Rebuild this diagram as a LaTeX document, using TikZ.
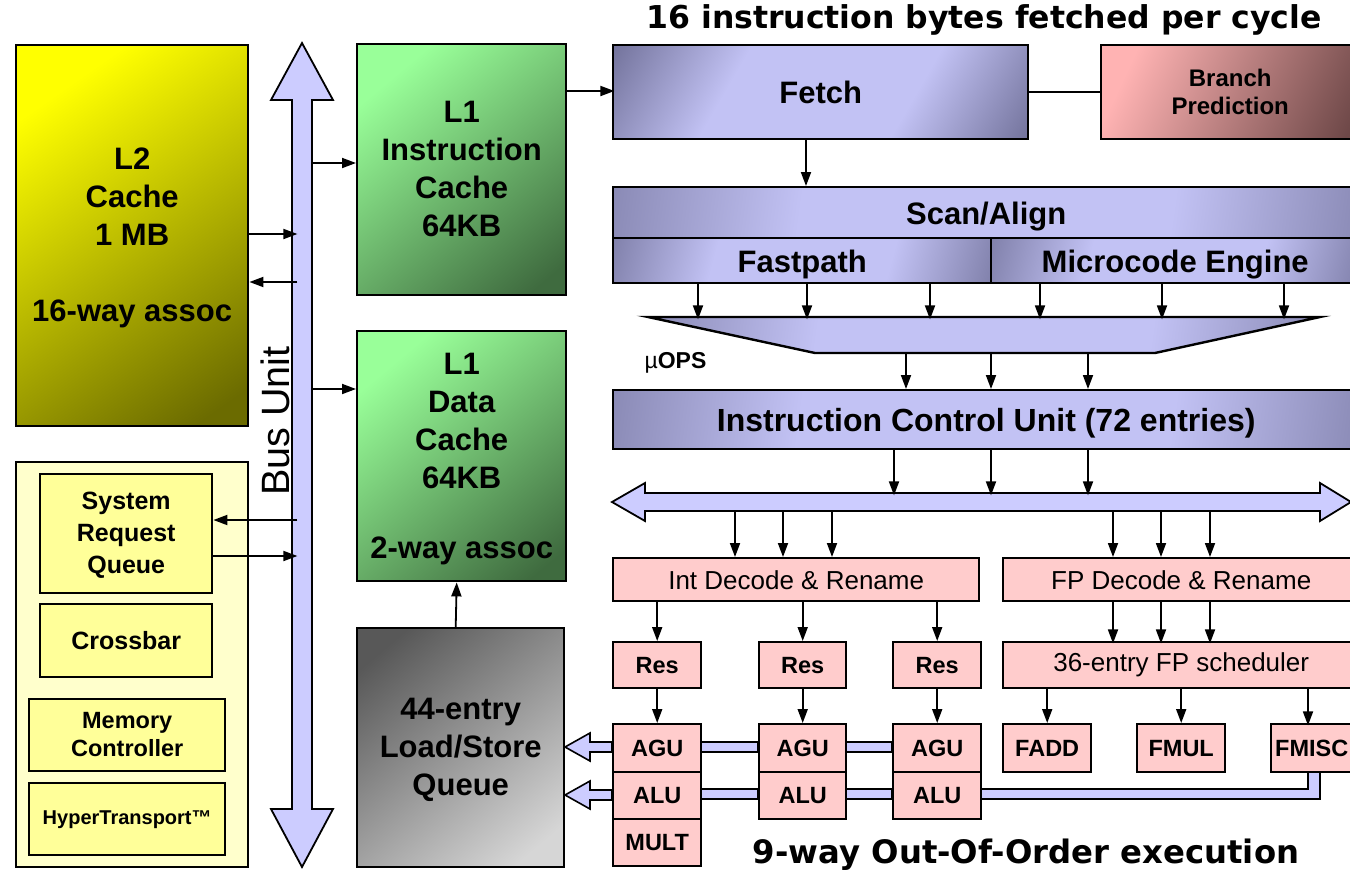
\documentclass[tikz,border=0pt]{standalone}
\usepackage{fontspec}
\setmainfont{Liberation Sans}
\newfontfamily\titlefont{DejaVu Sans}
\usetikzlibrary{arrows.meta}
\definecolor{lavL}{HTML}{C2C2F4}
\definecolor{lavD}{HTML}{55557A}
\definecolor{busC}{HTML}{CCCCFF}
\definecolor{pinkC}{HTML}{FFCCCC}
\definecolor{brL}{HTML}{FFB3B3}
\definecolor{brD}{HTML}{6E4848}
\definecolor{yelL}{HTML}{FFFF00}
\definecolor{yelD}{HTML}{6B6B00}
\definecolor{grnL}{HTML}{99FF99}
\definecolor{grnD}{HTML}{3F6B3F}
\definecolor{gryD}{HTML}{585858}
\definecolor{gryL}{HTML}{D6D6D6}
\definecolor{sysC}{HTML}{FFFFCC}
\definecolor{sysI}{HTML}{FFFF99}
\newcommand\tstrut{\rule[-0.22em]{0pt}{1.1em}}
\newcommand\sstrut{\rule[-0.22em]{0pt}{1.2em}}
\pgfdeclarehorizontalshading{lavsh}{100bp}{color(0bp)=(lavD); color(8bp)=(lavD); color(36bp)=(lavL); color(64bp)=(lavL); color(92bp)=(lavD); color(100bp)=(lavD)}
\pgfdeclarehorizontalshading{brsh}{100bp}{color(0bp)=(brL); color(25bp)=(brL); color(80bp)=(brD); color(100bp)=(brD)}
\pgfdeclarehorizontalshading{yelsh}{100bp}{color(0bp)=(yelL); color(25bp)=(yelL); color(80bp)=(yelD); color(100bp)=(yelD)}
\pgfdeclarehorizontalshading{grnsh}{100bp}{color(0bp)=(grnL); color(25bp)=(grnL); color(80bp)=(grnD); color(100bp)=(grnD)}
\pgfdeclarehorizontalshading{grysh}{100bp}{color(0bp)=(gryD); color(22bp)=(gryD); color(78bp)=(gryL); color(100bp)=(gryL)}
\tikzset{
  box/.style={draw=black, line width=2.4pt, inner sep=0pt, align=center, anchor=north west,
    font=\fontsize{31}{38}\selectfont\bfseries},
  pbox/.style={box, fill=pinkC, font=\fontsize{23.5}{28}\selectfont\bfseries},
  lbox/.style={box, fill=pinkC, font=\fontsize{26}{30}\selectfont},
  lav/.style={box, shading=lavsh, shading angle=-30},
  arr/.style={line width=1.8pt, -{Triangle[length=14pt,width=10pt]}},
  fat/.style={fill=busC, draw=black, line width=1.8pt, line join=miter},
}
\begin{document}
\begin{tikzpicture}[x=1pt,y=-1pt]
\useasboundingbox (0,0) rectangle (1350,873);
\clip (0,0) rectangle (1350,873);
\fill[white] (0,0) rectangle (1350,873);

% Bus unit arrow
\draw[fat] (302,43) -- (333,100) -- (312,100) -- (312,809) -- (333,809) -- (302,867)
  -- (271,809) -- (292,809) -- (292,100) -- (271,100) -- cycle;
\node[rotate=90, anchor=base, font=\fontsize{39.5}{40}\selectfont] (busunit) at (289,421) {Bus Unit};

% dispatch double arrow
\draw[fat] (612,502) -- (645,483) -- (645,493) -- (1320,493) -- (1320,483) -- (1351,502)
  -- (1320,521) -- (1320,511) -- (645,511) -- (645,521) -- cycle;

% hollow result buses
\draw[fat, line width=1.6pt] (565,747) -- (590,733) -- (590,742) -- (612,742) -- (612,752) -- (590,752) -- (590,761) -- cycle;
\draw[fat, line width=1.6pt] (565,795) -- (590,781) -- (590,790) -- (612,790) -- (612,800) -- (590,800) -- (590,809) -- cycle;
\draw[fat, line width=1.6pt] (700,742) rectangle (758,752);
\draw[fat, line width=1.6pt] (845,742) rectangle (892,752);
\draw[fat, line width=1.6pt] (700,789) rectangle (758,799);
\draw[fat, line width=1.6pt] (845,789) rectangle (892,799);
\draw[fat, line width=1.6pt] (980,789) -- (1308,789) -- (1308,771) -- (1320,771) -- (1320,799) -- (980,799) -- cycle;

% L2
\node[box, shading=yelsh, shading angle=-55, minimum width=232pt, minimum height=381pt] (l2) at (15,44)
  {\tstrut L2\\Cache\\1 MB\\[38pt]16-way assoc\tstrut};
% system block
\node[box, fill=sysC, minimum width=232pt, minimum height=405pt] (sys) at (15,461) {};
\node[box, fill=sysI, minimum width=172pt, minimum height=119pt, font=\fontsize{25}{32}\selectfont\bfseries] (srq) at (39,473) {\tstrut System\\Request\\Queue\tstrut};
\node[box, fill=sysI, minimum width=172pt, minimum height=73pt, font=\fontsize{25}{32}\selectfont\bfseries] (xbar) at (39,603) {Crossbar};
\node[box, fill=sysI, minimum width=196pt, minimum height=72pt, font=\fontsize{23.5}{28}\selectfont\bfseries] (mem) at (28,698) {\tstrut Memory\\Controller\tstrut};
\node[box, fill=sysI, minimum width=196pt, minimum height=72pt, font=\fontsize{20}{24}\selectfont\bfseries] (ht) at (28,782) {HyperTransport™};

% L1 caches and LSQ
\node[box, shading=grnsh, shading angle=-50, minimum width=209pt, minimum height=251pt] (l1i) at (356,43)
  {\tstrut L1\\Instruction\\Cache\\64KB\tstrut};
\node[box, shading=grnsh, shading angle=-50, minimum width=209pt, minimum height=250pt] (l1d) at (356,330)
  {\tstrut L1\\Data\\Cache\\64KB\\[32pt]2-way assoc\tstrut};
\node[box, shading=grysh, shading angle=-50, minimum width=207pt, minimum height=239pt] (lsq) at (356,627)
  {\tstrut 44-entry\\Load/Store\\Queue\tstrut};

% front end
\node[lav, minimum width=415pt, minimum height=94pt] (fetch) at (612,44) {\sstrut Fetch};
\node[box, shading=brsh, shading angle=-25, minimum width=258pt, minimum height=94pt, font=\fontsize{24}{28}\selectfont\bfseries] (branch) at (1100,44) {\tstrut Branch\\Prediction\tstrut};
\node[lav, shading angle=-8, minimum width=746pt, minimum height=51pt] (scan) at (612,186) {\sstrut Scan/Align};
\node[lav, shading angle=-15, minimum width=378pt, minimum height=45pt] (fast) at (612,237) {\sstrut Fastpath};
\node[lav, shading angle=-15, minimum width=368pt, minimum height=45pt] (micro) at (990,237) {\sstrut Microcode Engine};

% trapezoid (pick)
\coordinate (tA) at (648,317);
\coordinate (tB) at (1320,317);
\coordinate (tC) at (1155,353);
\coordinate (tD) at (815,353);
\shade[shading=lavsh, shading angle=-8, draw=black, line width=2.4pt] (tA) -- (tB) -- (tC) -- (tD) -- cycle;
\node[anchor=west, font=\fontsize{23}{24}\selectfont] (uops) at (641,363) {µ\textbf{OPS}};

\node[lav, shading angle=-8, minimum width=746pt, minimum height=59pt, font=\fontsize{32}{38}\selectfont\bfseries] (icu) at (612,389) {\sstrut Instruction Control Unit (72 entries)};

% decode / schedulers
\node[lbox, minimum width=366pt, minimum height=43pt] (intdec) at (612,557) {Int Decode \& Rename};
\node[lbox, minimum width=356pt, minimum height=43pt] (fpdec) at (1002,557) {FP Decode \& Rename};
\node[pbox, minimum width=88pt, minimum height=46pt] (res1) at (612,641) {Res};
\node[pbox, minimum width=87pt, minimum height=46pt] (res2) at (758,641) {Res};
\node[pbox, minimum width=88pt, minimum height=46pt] (res3) at (892,641) {Res};
\node[lbox, minimum width=356pt, minimum height=46pt] (fpsch) at (1002,641) {36-entry FP scheduler};

\node[pbox, minimum width=88pt, minimum height=48pt] (agu1) at (612,723) {AGU};
\node[pbox, minimum width=88pt, minimum height=47pt] (alu1) at (612,771) {ALU};
\node[pbox, minimum width=88pt, minimum height=47pt] (mult) at (612,818) {MULT};
\node[pbox, minimum width=87pt, minimum height=48pt] (agu2) at (758,723) {AGU};
\node[pbox, minimum width=87pt, minimum height=47pt] (alu2) at (758,771) {ALU};
\node[pbox, minimum width=88pt, minimum height=48pt] (agu3) at (892,723) {AGU};
\node[pbox, minimum width=88pt, minimum height=47pt] (alu3) at (892,771) {ALU};
\node[pbox, minimum width=88pt, minimum height=48pt] (fadd) at (1002,723) {FADD};
\node[pbox, minimum width=88pt, minimum height=48pt] (fmul) at (1136,723) {FMUL};
\node[pbox, minimum width=88pt, minimum height=48pt, text width=80pt, align=left] (fmisc) at (1270,723) {FMISC};

% titles
\node[font=\titlefont\bfseries\fontsize{31.5}{34}\selectfont] (t1) at (984,20) {16 instruction bytes fetched per cycle};
\node[font=\titlefont\bfseries\fontsize{32.3}{34}\selectfont] (t2) at (1026,855) {9-way Out-Of-Order execution};

% thin connectors: bus unit
\draw[arr] (l2.north east) ++(0,190) -- ++(48,0);
\draw[arr] (l2.north east) ++(48,238) -- ++(-48,0);
\draw[arr] (l1i.north west) ++(-44,120) -- ++(44,0);
\draw[arr] (l1d.north west) ++(-44,59) -- ++(44,0);
\draw[arr] (srq.north east) ++(84,47) -- ++(-84,0);
\draw[arr] (srq.north east) ++(0,83) -- ++(84,0);
\draw[arr] (lsq.north) ++(-5,0) -- ([xshift=-5pt]l1d.south);

% front end
\draw[arr] (l1i.north east) ++(0,48) -- ++(47,0);
\draw[line width=1.8pt] (fetch.east) -- (branch.west);
\draw[arr] (fetch.south west) ++(194,0) -- ([xshift=194pt]scan.north west);
\foreach \x in {86,195,318} { \draw[arr] (fast.south west) ++(\x,0) -- ++(0,35); }
\foreach \x in {50,172,294} { \draw[arr] (micro.south west) ++(\x,0) -- ++(0,35); }
\foreach \x in {294,379,476} { \draw[arr] (icu.north west) ++(\x,-36) -- ++(0,36); }
\foreach \x in {282,379,476} { \draw[arr] (icu.south west) ++(\x,0) -- ++(0,45); }
\foreach \x in {123,171,220} { \draw[arr] (intdec.north west) ++(\x,-46) -- ++(0,46); }
\foreach \x in {111,159,208} { \draw[arr] (fpdec.north west) ++(\x,-46) -- ++(0,46); }
\draw[arr] (res1.north) ++(0,-41) -- (res1.north);
\draw[arr] (res2.north) ++(0,-41) -- (res2.north);
\draw[arr] (res3.north) ++(0,-41) -- (res3.north);
\draw[arr] (res1.south) -- (agu1.north);
\draw[arr] (res2.south) -- (agu2.north);
\draw[arr] (res3.south) -- (agu3.north);
\foreach \x in {111,159,208} { \draw[arr] (fpdec.south west) ++(\x,0) -- ++(0,41); }
\draw[arr] (fadd.north) ++(0,-36) -- (fadd.north);
\draw[arr] (fmul.north) ++(0,-36) -- (fmul.north);
\draw[arr] (fpsch.south west) ++(306,0) -- ++(0,36);
\end{tikzpicture}
\end{document}
